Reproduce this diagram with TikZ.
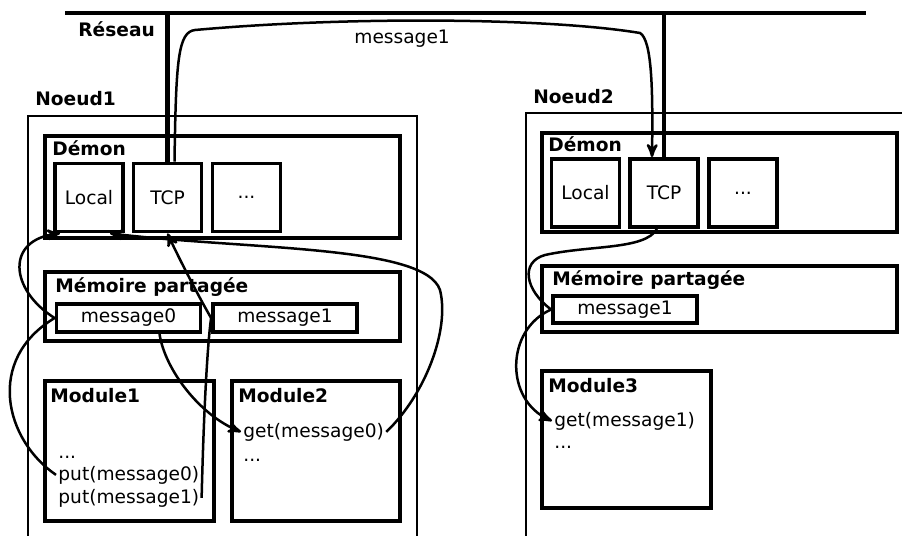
\documentclass[tikz,border=0pt]{standalone}
\usepackage{fontspec}
\setmainfont{DejaVu Sans}
\usepackage{tikz}
\usetikzlibrary{shapes,arrows,positioning}

\begin{document}
\begin{tikzpicture}[x=0.5pt,y=-0.5pt,
		outerbox/.style={rectangle,draw,line width=1pt,inner sep=0pt},
		thickbox/.style={rectangle,draw,line width=1.9pt,inner sep=0pt},
		smallbox/.style={thickbox,minimum width=34pt,minimum height=34pt,font=\fontsize{9.3pt}{11pt}\selectfont},
		msgbox/.style={thickbox,minimum width=72pt,minimum height=14pt,font=\fontsize{9.3pt}{11pt}\selectfont},
		lbl/.style={anchor=base west,inner sep=0pt,font=\fontsize{9.3pt}{11pt}\selectfont\bfseries},
		txt/.style={anchor=base west,inner sep=1pt,font=\fontsize{9.3pt}{11pt}\selectfont},
		netline/.style={line width=2.2pt},
		flow/.style={line width=1.25pt,-stealth'}]
	\useasboundingbox (0,0) rectangle (902,536);
	\clip (0,0) rectangle (902,536);
	% reseau
	\coordinate (netL) at (65,13);
	\coordinate (netR) at (866,13);
	\draw[netline] (netL) -- (netR);
	\node[lbl] (reseau) at (78,36) {Réseau};
	% noeud 1
	\node[outerbox,minimum width=194.5pt,minimum height=222pt] (noeudA) at (222.5,338) {};
	\node[lbl] (noeudAlbl) at (35,105) {Noeud1};
	\node[thickbox,minimum width=177.5pt,minimum height=51pt] (demonA) at (222.5,187) {};
	\node[lbl] (demonAlbl) at (52,155) {Démon};
	\node[smallbox] (localA) at (89,197.5) {Local};
	\node[smallbox] (tcpA) at (167.5,197.5) {TCP};
	\node[smallbox] (dotsA) at (246.5,197.5) {...};
	\node[thickbox,minimum width=177.5pt,minimum height=34.5pt] (memA) at (222.5,306.5) {};
	\node[lbl] (memAlbl) at (55,292) {Mémoire partagée};
	\node[msgbox] (msgA) at (128.5,318) {message0};
	\node[msgbox] (msgB) at (285,318) {message1};
	\node[thickbox,minimum width=84.5pt,minimum height=70pt] (modA) at (129.5,451) {};
	\node[lbl] (modAlbl) at (50,402) {Module1};
	\node[txt] (dotsModA) at (56,458) {...};
	\node[txt] (putA) at (56,480) {put(message0)};
	\node[txt] (putB) at (56,503) {put(message1)};
	\node[thickbox,minimum width=84pt,minimum height=70pt] (modB) at (316,451) {};
	\node[lbl] (modBlbl) at (238,402) {Module2};
	\node[txt] (getA) at (241,437) {get(message0)};
	\node[txt] (dotsModB) at (241,461) {...};
	% noeud 2
	\node[outerbox,minimum width=202pt,minimum height=223.5pt] (noeudB) at (728,336.5) {};
	\node[lbl] (noeudBlbl) at (533,103) {Noeud2};
	\node[thickbox,minimum width=177.5pt,minimum height=49.5pt] (demonB) at (719.5,182.5) {};
	\node[lbl] (demonBlbl) at (548,151) {Démon};
	\node[smallbox] (localB) at (585.5,193) {Local};
	\node[smallbox] (tcpB) at (664,193) {TCP};
	\node[smallbox] (dotsB) at (743,193) {...};
	\node[thickbox,minimum width=177.5pt,minimum height=33pt] (memB) at (719.5,299) {};
	\node[lbl] (memBlbl) at (552,285) {Mémoire partagée};
	\node[msgbox,minimum height=13.5pt] (msgC) at (625,309.5) {message1};
	\node[thickbox,minimum width=84.5pt,minimum height=68.5pt] (modC) at (626.5,439.5) {};
	\node[lbl] (modClbl) at (548,392) {Module3};
	\node[txt] (getC) at (552,426) {get(message1)};
	\node[txt] (dotsModC) at (552,448) {...};
	% liaisons reseau
	\draw[netline] (tcpA.north) -- (tcpA.north |- netL);
	\draw[netline] (tcpB.north) -- (tcpB.north |- netL);
	\draw[flow] ([xshift=3.5pt]tcpA.north) .. controls (176,60) and (178,32) .. (195,30)
		.. controls (350,16) and (550,18) .. (640,33)
		.. controls (652,40) and (653,90) .. ([xshift=-6pt]tcpB.north);
	\node[txt,anchor=base west] (msgNet) at (352,43) {message1};
	% flux noeud 1
	\draw[flow] (putA.west) .. controls (5,440) and (-15,360) .. (msgA.west)
		.. controls (10,290) and (5,240) .. ([xshift=-14.5pt]localA.south);
	\draw[flow] (putB.east) .. controls (204,400) and (208,340) .. (msgB.west)
		.. controls (195,290) and (175,250) .. (tcpA.south);
	\draw[flow] ([xshift=15.5pt]msgA.south) .. controls (165,370) and (200,415) .. (getA.west);
	\draw[flow] (getA.east) .. controls (425,395) and (450,330) .. (440,290)
		.. controls (425,245) and (250,250) .. ([xshift=10.5pt]localA.south);
	% flux noeud 2
	\draw[flow] ([xshift=-3.5pt]tcpB.south) .. controls (645,250) and (590,245) .. (545,255)
		.. controls (520,262) and (525,290) .. (msgC.west)
		.. controls (505,330) and (505,400) .. (getC.west);
\end{tikzpicture}
\end{document}
